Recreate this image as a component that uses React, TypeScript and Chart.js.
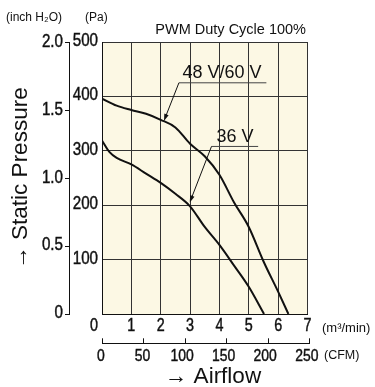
import { useEffect, useRef } from 'react';
import { Chart, registerables } from 'chart.js';

Chart.register(...registerables);

// ---- data ----
const flow48 = [0, 0.5, 1, 1.5, 2, 2.5, 3, 3.5, 4, 4.5, 5, 5.5, 6, 6.35];
const pa48 = [396, 383, 375, 368, 357, 343, 313, 290, 256, 205, 160, 97, 41, 0];
const flow36 = [0, 0.25, 0.5, 1, 1.5, 2, 2.5, 3, 3.5, 4, 4.5, 5, 5.52];
const pa36 = [319, 298, 287, 275, 258, 241, 221, 198, 160, 127, 89, 50, 0];
const seriesLabels = ['48 V/60 V', '36 V'];
const flowTicks = [0, 1, 2, 3, 4, 5, 6, 7];
const cfmTicks = [0, 50, 100, 150, 200, 250];
const paTicks = [0, 100, 200, 300, 400, 500];
const inchTicks = [0, 0.5, 1.0, 1.5, 2.0];
const titleText = 'PWM Duty Cycle 100%';
const yTitle = '→ Static Pressure';
const xTitle = '→ Airflow';

const PA_PER_INCH = 249.0889;
const M3MIN_PER_CFM = 0.0283168;

const SANS = '"Liberation Sans", Arial, Helvetica, sans-serif';
const INK = '#111';
const GRID = '#333';
const PLOT_BG = '#fcf8e4';
const SQUEEZE = 0.82; // condensed look for tick numerals

function drawArrow(ctx: CanvasRenderingContext2D, x1: number, y1: number, x2: number, y2: number) {
  const ang = Math.atan2(y2 - y1, x2 - x1);
  const len = 7;
  const hw = 2.3;
  ctx.beginPath();
  ctx.moveTo(x1, y1);
  ctx.lineTo(x2 - Math.cos(ang) * len * 0.8, y2 - Math.sin(ang) * len * 0.8);
  ctx.stroke();
  ctx.beginPath();
  ctx.moveTo(x2, y2);
  ctx.lineTo(x2 - Math.cos(ang) * len - Math.sin(ang) * hw, y2 - Math.sin(ang) * len + Math.cos(ang) * hw);
  ctx.lineTo(x2 - Math.cos(ang) * len + Math.sin(ang) * hw, y2 - Math.sin(ang) * len - Math.cos(ang) * hw);
  ctx.closePath();
  ctx.fill();
}

function condText(ctx: CanvasRenderingContext2D, s: string, x: number, y: number, align: CanvasTextAlign) {
  if (!s) return;
  const w = ctx.measureText(s).width * SQUEEZE;
  ctx.textAlign = align;
  ctx.fillText(s, x, y, w);
  ctx.lineWidth = 0.45;
  ctx.strokeText(s, x, y, w);
}

const decor = {
  id: 'decor',
  beforeDraw(chart: any) {
    const { ctx } = chart;
    const x = chart.scales.x;
    const y = chart.scales.y;
    ctx.save();
    ctx.fillStyle = '#fff';
    ctx.fillRect(0, 0, chart.width, chart.height);
    const l = x.getPixelForValue(0);
    const r = x.getPixelForValue(7);
    const t = y.getPixelForValue(500);
    const b = y.getPixelForValue(0);
    ctx.fillStyle = PLOT_BG;
    ctx.fillRect(l, t, r - l, b - t);
    ctx.restore();
  },
  afterDraw(chart: any) {
    const { ctx, chartArea } = chart;
    const x = chart.scales.x;
    const x2 = chart.scales.x2;
    const y = chart.scales.y;
    const y2 = chart.scales.y2;
    ctx.save();
    // trim the strip between 7 m3/min and the 250 CFM end
    const r7 = Math.round(x.getPixelForValue(7));
    ctx.fillStyle = '#fff';
    ctx.fillRect(r7 + 1, chartArea.top - 2, chartArea.right - r7 + 2, chartArea.bottom - chartArea.top + 3);

    ctx.fillStyle = INK;
    ctx.strokeStyle = INK;
    ctx.textBaseline = 'middle';

    // tick labels, placed from the library scales
    ctx.font = `18.5px ${SANS}`;
    for (const t of y.ticks) {
      if (t.value === 0) continue;
      condText(ctx, String(t.value), y.right - 4, y.getPixelForValue(t.value) - 1, 'right');
    }
    for (const t of y2.ticks) {
      const s = t.value === 0 ? '0' : Number(t.value).toFixed(1);
      condText(ctx, s, y2.right - 6, y2.getPixelForValue(t.value) - 1, 'right');
    }
    ctx.font = `17.5px ${SANS}`;
    for (const t of x.ticks) {
      const px = x.getPixelForValue(t.value) + (t.value === 0 ? -8 : 0);
      condText(ctx, String(t.value), px, x.top + 12, 'center');
    }
    ctx.font = `17px ${SANS}`;
    for (const t of x2.ticks) {
      const px = x2.getPixelForValue(t.value) + (t.value >= 100 ? -3 : -1);
      condText(ctx, String(t.value), px, x2.top + 13, 'center');
    }

    // header texts
    ctx.font = `12px ${SANS}`;
    ctx.textAlign = 'left';
    ctx.fillText('(inch H₂O)', 6, 18);
    ctx.fillText('(Pa)', 85, 18);
    ctx.font = `14.5px ${SANS}`;
    ctx.textAlign = 'right';
    ctx.fillText(titleText, 306, 30);

    // units
    ctx.textAlign = 'left';
    ctx.font = `13px ${SANS}`;
    ctx.fillText('(m³/min)', 322, 328);
    ctx.font = `12.5px ${SANS}`;
    ctx.fillText('(CFM)', 324, 356);

    // x title
    ctx.font = `22.5px ${SANS}`;
    ctx.textAlign = 'center';
    ctx.fillText(xTitle, 213, 377);

    // series labels with leaders
    ctx.font = `18px ${SANS}`;
    ctx.textAlign = 'left';
    ctx.textBaseline = 'alphabetic';
    ctx.fillText(seriesLabels[0], x.getPixelForValue(2.74), y.getPixelForValue(433));
    ctx.fillText(seriesLabels[1], x.getPixelForValue(3.9), y.getPixelForValue(316));

    ctx.lineWidth = 1;
    ctx.strokeStyle = '#444';
    ctx.beginPath();
    ctx.moveTo(x.getPixelForValue(2.62), y.getPixelForValue(425));
    ctx.lineTo(x.getPixelForValue(5.6), y.getPixelForValue(425));
    ctx.moveTo(x.getPixelForValue(3.73), y.getPixelForValue(308));
    ctx.lineTo(x.getPixelForValue(5.32), y.getPixelForValue(308));
    ctx.stroke();

    ctx.strokeStyle = INK;
    ctx.fillStyle = INK;
    drawArrow(ctx, x.getPixelForValue(2.62), y.getPixelForValue(425), x.getPixelForValue(2.11), y.getPixelForValue(355));
    drawArrow(ctx, x.getPixelForValue(3.73), y.getPixelForValue(308), x.getPixelForValue(2.99), y.getPixelForValue(205));
    ctx.restore();
  },
};

export default function App() {
  const ref = useRef<HTMLCanvasElement>(null);
  useEffect(() => {
    const canvas = ref.current!;
    const chart = new Chart(canvas, {
      type: 'line',
      data: {
        datasets: [
          {
            label: seriesLabels[0],
            data: flow48.map((f, i) => ({ x: f, y: pa48[i] })),
            borderColor: INK,
            borderWidth: 2,
            pointRadius: 0,
            cubicInterpolationMode: 'monotone',
            xAxisID: 'x',
            yAxisID: 'y',
          },
          {
            label: seriesLabels[1],
            data: flow36.map((f, i) => ({ x: f, y: pa36[i] })),
            borderColor: INK,
            borderWidth: 2,
            pointRadius: 0,
            cubicInterpolationMode: 'monotone',
            xAxisID: 'x',
            yAxisID: 'y',
          },
        ],
      },
      options: {
        responsive: false,
        animation: false,
        events: [],
        layout: { padding: { left: 0, top: 42, right: 65.2, bottom: 0 } },
        plugins: { legend: { display: false }, tooltip: { enabled: false } },
        scales: {
          x: {
            type: 'linear',
            position: 'bottom',
            weight: 0,
            min: 0,
            max: 250 * M3MIN_PER_CFM,
            afterBuildTicks: (s: any) => { s.ticks = flowTicks.map((v) => ({ value: v })); },
            afterFit: (s: any) => { s.height = 29.3; },
            grid: { color: GRID, lineWidth: 1, drawTicks: false },
            border: { color: INK, width: 1 },
            ticks: { display: false },
          },
          x2: {
            type: 'linear',
            position: 'bottom',
            weight: 1,
            min: 0,
            max: 250,
            afterBuildTicks: (s: any) => { s.ticks = cfmTicks.map((v) => ({ value: v })); },
            afterFit: (s: any) => { s.height = 43.7; },
            grid: { drawOnChartArea: false, drawTicks: true, tickLength: -5, color: INK, lineWidth: 1 },
            border: { display: true, color: INK, width: 1 },
            ticks: { display: false },
          },
          y: {
            type: 'linear',
            position: 'left',
            weight: 0,
            min: 0,
            max: 500,
            afterBuildTicks: (s: any) => { s.ticks = paTicks.map((v) => ({ value: v })); },
            afterFit: (s: any) => { s.width = 33; },
            grid: { color: GRID, lineWidth: 1, drawTicks: false },
            border: { color: INK, width: 1 },
            ticks: { display: false },
          },
          y2: {
            type: 'linear',
            position: 'left',
            weight: 1,
            min: 0,
            max: 500 / PA_PER_INCH,
            afterBuildTicks: (s: any) => { s.ticks = inchTicks.map((v) => ({ value: v })); },
            afterFit: (s: any) => { s.width = 69; },
            grid: { drawOnChartArea: false, drawTicks: true, tickLength: 4, color: INK, lineWidth: 1 },
            border: { display: true, color: INK, width: 1 },
            ticks: { display: false },
            title: {
              display: true,
              text: yTitle,
              color: INK,
              font: { family: SANS, size: 22.5, lineHeight: 1.2 },
              padding: { top: 7.5, bottom: 0 },
            },
          },
        },
      },
      plugins: [decor],
    } as any);
    return () => chart.destroy();
  }, []);
  return (
    <div style={{ position: 'fixed', left: 0, top: 0, width: 375, height: 387, background: '#fff' }}>
      <canvas ref={ref} width={375} height={387} style={{ display: 'block', width: 375, height: 387 }} />
    </div>
  );
}
